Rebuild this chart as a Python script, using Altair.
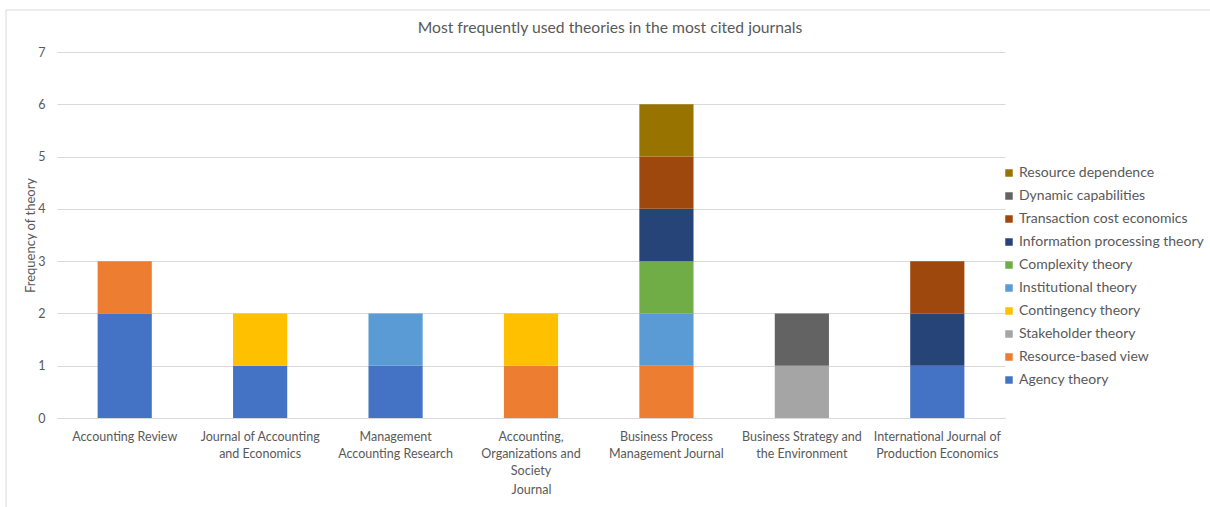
import json
import altair as alt
import pandas as pd

journals = [
    "Accounting Review",
    "Journal of Accounting and Economics",
    "Management Accounting Research",
    "Accounting, Organizations and Society",
    "Business Process Management Journal",
    "Business Strategy and the Environment",
    "International Journal of Production Economics",
]
journal_label_lines = [
    ["Accounting Review"],
    ["Journal of Accounting", "and Economics"],
    ["Management", "Accounting Research"],
    ["Accounting,", "Organizations and", "Society"],
    ["Business Process", "Management Journal"],
    ["Business Strategy and", "the Environment"],
    ["International Journal of", "Production Economics"],
]

# stacking order, bottom to top
theories = [
    "Agency theory",
    "Resource-based view",
    "Stakeholder theory",
    "Contingency theory",
    "Institutional theory",
    "Complexity theory",
    "Information processing theory",
    "Transaction cost economics",
    "Dynamic capabilities",
    "Resource dependence",
]
theory_colors = [
    "#4472C4", "#ED7D31", "#A5A5A5", "#FFC000", "#5B9BD5",
    "#70AD47", "#264478", "#9E480E", "#636363", "#997300",
]

# counts per journal (same order as journals)
agency = [2, 1, 1, 0, 0, 0, 1]
resource_based = [1, 0, 0, 1, 1, 0, 0]
stakeholder = [0, 0, 0, 0, 0, 1, 0]
contingency = [0, 1, 0, 1, 0, 0, 0]
institutional = [0, 0, 1, 0, 1, 0, 0]
complexity = [0, 0, 0, 0, 1, 0, 0]
info_processing = [0, 0, 0, 0, 1, 0, 1]
transaction_cost = [0, 0, 0, 0, 1, 0, 1]
dynamic_cap = [0, 0, 0, 0, 0, 1, 0]
resource_dep = [0, 0, 0, 0, 1, 0, 0]

series = [agency, resource_based, stakeholder, contingency, institutional,
          complexity, info_processing, transaction_cost, dynamic_cap, resource_dep]

rows = []
for ti, (theory, vals) in enumerate(zip(theories, series)):
    for journal, v in zip(journals, vals):
        if v > 0:
            rows.append({"Journal": journal, "Theory": theory, "Count": v, "order": ti})
df = pd.DataFrame(rows)

# label expression for wrapped x labels
expr = "datum.label"
for j, lines in reversed(list(zip(journals, journal_label_lines))):
    expr = f"datum.label == {json.dumps(j)} ? {json.dumps(lines)} : ({expr})"

FONT = "Lato"
GREY = "#595959"

legend_domain = list(reversed(theories))
legend_range = list(reversed(theory_colors))

bars = alt.Chart(df).mark_bar().encode(
    x=alt.X(
        "Journal:N",
        sort=journals,
        scale=alt.Scale(paddingInner=0.6, paddingOuter=0.3),
        axis=alt.Axis(
            title="Journal",
            labelAngle=0,
            labelExpr=expr,
            labelFont=FONT,
            labelFontSize=12.5,
            labelColor=GREY,
            labelLineHeight=17,
            labelPadding=12,
            labelBaseline="top",
            ticks=False,
            domainColor="#D9D9D9",
            titleFont=FONT,
            titleFontSize=12.5,
            titleFontWeight="normal",
            titleColor=GREY,
            titlePadding=7,
            grid=False,
        ),
    ),
    y=alt.Y(
        "sum(Count):Q",
        scale=alt.Scale(domain=[0, 7]),
        axis=alt.Axis(
            title="Frequency of theory",
            values=[0, 1, 2, 3, 4, 5, 6, 7],
            labelFont=FONT,
            labelFontSize=12.5,
            labelColor=GREY,
            labelPadding=12,
            ticks=False,
            domain=False,
            gridColor="#D9D9D9",
            gridWidth=1,
            titleFont=FONT,
            titleFontSize=13,
            titleFontWeight="normal",
            titleColor=GREY,
            titlePadding=0,
        ),
    ),
    color=alt.Color(
        "Theory:N",
        scale=alt.Scale(domain=legend_domain, range=legend_range),
        legend=alt.Legend(
            title=None,
            orient="none",
            legendX=945,
            legendY=114,
            symbolType="square",
            symbolSize=56,
            symbolStrokeWidth=0,
            labelFont=FONT,
            labelFontSize=14,
            labelColor=GREY,
            labelOffset=3,
            rowPadding=9,
            padding=0,
            labelLimit=300,
        ),
    ),
    order=alt.Order("order:Q", sort="ascending"),
)

border = alt.Chart(pd.DataFrame({"a": [0]})).mark_rect(
    fill=None, stroke="#D9D9D9", strokeWidth=1
).encode(
    x=alt.value(-51), x2=alt.value(1170),
    y=alt.value(-42), y2=alt.value(470),
)

chart = alt.layer(border, bars).properties(
    width=948,
    height=366,
    padding={"left": 57, "top": 52, "right": 205, "bottom": 89},
    autosize=alt.AutoSizeParams(type="none"),
    background="white",
    title=alt.Title(
        "Most frequently used theories in the most cited journals",
        font=FONT,
        fontSize=15.7,
        fontWeight="normal",
        color=GREY,
        dx=79,
        offset=-27,
    ),
).configure_view(stroke="transparent", strokeWidth=0)

chart.save("out.html", embed_options={"renderer": "svg", "actions": False})
